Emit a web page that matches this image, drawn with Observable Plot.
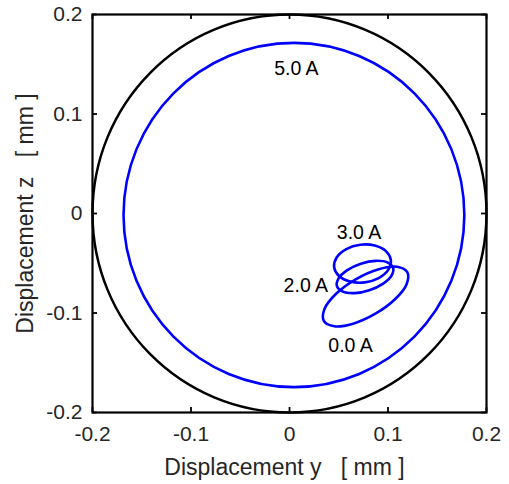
<!DOCTYPE html>
<html>
<head>
<meta charset="utf-8">
<script src="https://cdn.jsdelivr.net/npm/d3@7"></script>
<script src="https://cdn.jsdelivr.net/npm/@observablehq/plot@0.6"></script>
<style>
  html, body { margin: 0; padding: 0; background: #fff; }
  svg text { white-space: pre; }
</style>
</head>
<body>
<div id="chart"></div>
<script>
// Tick values
const ticks = [-0.2, -0.1, 0, 0.1, 0.2];

// Black boundary circle (displacement y, z)
const boundaryY = [0.2, 0.1848, 0.1414, 0.0765, 0, -0.0765, -0.1414, -0.1848, -0.2, -0.1848, -0.1414, -0.0765, 0, 0.0765, 0.1414, 0.1848];
const boundaryZ = [0, 0.0765, 0.1414, 0.1848, 0.2, 0.1848, 0.1414, 0.0765, 0, -0.0765, -0.1414, -0.1848, -0.2, -0.1848, -0.1414, -0.0765];

// Orbit at 5.0 A
const orbit50Y = [0.1775, 0.1643, 0.1268, 0.0707, 0.0045, -0.0617, -0.1178, -0.1553, -0.1685, -0.1553, -0.1178, -0.0617, 0.0045, 0.0707, 0.1268, 0.1643];
const orbit50Z = [-0.0015, 0.0647, 0.1208, 0.1583, 0.1715, 0.1583, 0.1208, 0.0647, -0.0015, -0.0677, -0.1238, -0.1613, -0.1745, -0.1613, -0.1238, -0.0677];

// Orbit at 3.0 A
const orbit30Y = [0.1029, 0.0979, 0.0865, 0.0718, 0.0577, 0.0480, 0.0453, 0.0503, 0.0617, 0.0764, 0.0905, 0.1002];
const orbit30Z = [-0.0468, -0.0378, -0.0322, -0.0314, -0.0357, -0.0439, -0.0538, -0.0628, -0.0684, -0.0692, -0.0649, -0.0567];

// Orbit at 2.0 A
const orbit20Y = [0.1052, 0.0993, 0.0872, 0.0724, 0.0587, 0.0498, 0.0482, 0.0542, 0.0662, 0.0810, 0.0947, 0.1036];
const orbit20Z = [-0.0545, -0.0491, -0.0476, -0.0505, -0.0569, -0.0652, -0.0731, -0.0785, -0.0800, -0.0771, -0.0707, -0.0624];

// Orbit at 0.0 A
const orbit00Y = [0.1196, 0.1090, 0.0898, 0.0672, 0.0473, 0.0355, 0.0348, 0.0455, 0.0646, 0.0872, 0.1071, 0.1190];
const orbit00Z = [-0.0589, -0.0535, -0.0562, -0.0661, -0.0807, -0.0960, -0.1079, -0.1133, -0.1107, -0.1007, -0.0862, -0.0708];

// Annotation labels
const labelText = ["5.0 A", "3.0 A", "2.0 A", "0.0 A"];
const labelY = [0.007, 0.0706, 0.0166, 0.062];
const labelZ = [0.145, -0.0194, -0.073, -0.1327];

function toRows(name, ys, zs) {
  return ys.map((y, i) => ({series: name, y, z: zs[i]}));
}
const boundary = toRows("boundary", boundaryY, boundaryZ);
const orbits = [
  ...toRows("5.0", orbit50Y, orbit50Z),
  ...toRows("3.0", orbit30Y, orbit30Z),
  ...toRows("2.0", orbit20Y, orbit20Z),
  ...toRows("0.0", orbit00Y, orbit00Z)
];
const labels = labelText.map((t, i) => ({t, y: labelY[i], z: labelZ[i]}));

const fmt = d => d === 0 ? "0" : d.toFixed(1);
const textColor = "#262626";

const chart = Plot.plot({
  width: 509,
  height: 484,
  marginLeft: 92,
  marginRight: 23,
  marginTop: 14,
  marginBottom: 72,
  style: {fontFamily: "'Liberation Sans', Arial, sans-serif", background: "#fff", overflow: "visible"},
  x: {domain: [-0.2, 0.2], ticks: ticks},
  y: {domain: [-0.2, 0.2], ticks: ticks},
  marks: [
    Plot.line(boundary, {x: "y", y: "z", z: "series", curve: "catmull-rom-closed", stroke: "#000", strokeWidth: 2.5}),
    Plot.line(orbits, {x: "y", y: "z", z: "series", curve: "catmull-rom-closed", stroke: "#0000ff", strokeWidth: 2.6}),
    Plot.text(labels, {x: "y", y: "z", text: "t", fontSize: 19.5, fill: "#000", textAnchor: "middle"}),
    // inward ticks on all four sides
    Plot.ruleX(ticks, {x: d => d, insetTop: 393, stroke: "#000", strokeWidth: 1.8}),
    Plot.ruleX(ticks, {x: d => d, insetBottom: 393, stroke: "#000", strokeWidth: 1.8}),
    Plot.ruleY(ticks, {y: d => d, insetRight: 389, stroke: "#000", strokeWidth: 1.8}),
    Plot.ruleY(ticks, {y: d => d, insetLeft: 389, stroke: "#000", strokeWidth: 1.8}),
    Plot.frame({stroke: "#000", strokeWidth: 2.2}),
    Plot.axisX(ticks, {anchor: "bottom", tickSize: 0, tickPadding: 14, tickFormat: fmt, fontSize: 21, fill: textColor, label: null}),
    Plot.axisY(ticks, {anchor: "left", tickSize: 0, tickPadding: 10, tickFormat: fmt, fontSize: 21, fill: textColor, label: null}),
    Plot.text(["Displacement y   [ mm ]"], {frameAnchor: "bottom", textAnchor: "middle", lineAnchor: "middle", dx: -5, dy: 55, fontSize: 23, fill: textColor, text: d => d}),
    Plot.text(["Displacement z   [ mm ]"], {frameAnchor: "left", textAnchor: "middle", lineAnchor: "middle", dx: -67, rotate: -90, fontSize: 23, fill: textColor, text: d => d})
  ]
});
document.getElementById("chart").appendChild(chart);
</script>
</body>
</html>
